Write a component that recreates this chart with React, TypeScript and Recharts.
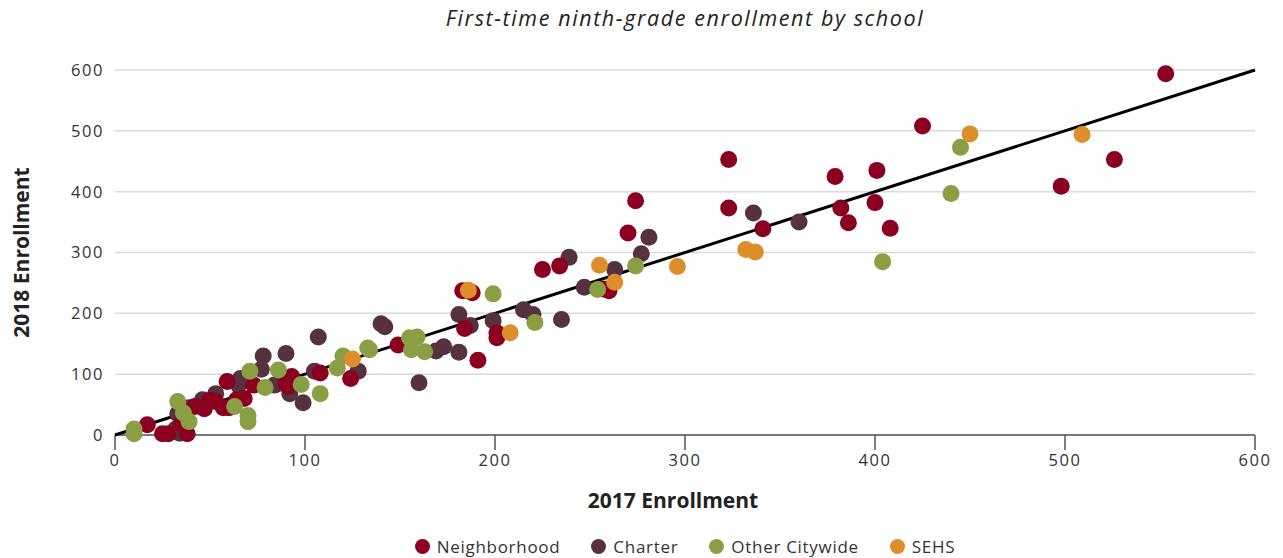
import { ScatterChart, Scatter, XAxis, YAxis, CartesianGrid, Legend } from 'recharts';

const FONT = '"Open Sans", sans-serif';

const axisTicks = [0, 100, 200, 300, 400, 500, 600];

const neighborhood = [
    { x: 553, y: 594 }, { x: 425, y: 508 }, { x: 526, y: 453 }, { x: 498, y: 409 },
    { x: 323, y: 453 }, { x: 323, y: 373 }, { x: 401, y: 435 }, { x: 379, y: 425 },
    { x: 382, y: 373 }, { x: 400, y: 382 }, { x: 386, y: 349 }, { x: 408, y: 340 },
    { x: 341, y: 339 }, { x: 274, y: 385 }, { x: 270, y: 332 }, { x: 234, y: 278 },
    { x: 225, y: 272 }, { x: 260, y: 237 }, { x: 257, y: 240 }, { x: 183, y: 237 },
    { x: 188, y: 234 }, { x: 184, y: 175 }, { x: 201, y: 168 }, { x: 201, y: 160 },
    { x: 191, y: 123 }, { x: 149, y: 148 }, { x: 124, y: 93 }, { x: 108, y: 102 },
    { x: 93, y: 96 }, { x: 90, y: 85 }, { x: 91, y: 80 }, { x: 73, y: 82 },
    { x: 68, y: 60 }, { x: 59, y: 88 }, { x: 53, y: 55 }, { x: 57, y: 45 },
    { x: 50, y: 57 }, { x: 47, y: 43 }, { x: 42, y: 47 }, { x: 35, y: 18 },
    { x: 28, y: 2 }, { x: 25, y: 2 }, { x: 38, y: 2 }, { x: 17, y: 17 },
    { x: 60, y: 45 }, { x: 64, y: 58 },
];

const charter = [
    { x: 336, y: 365 }, { x: 360, y: 350 }, { x: 281, y: 325 }, { x: 277, y: 298 },
    { x: 263, y: 272 }, { x: 239, y: 292 }, { x: 247, y: 243 }, { x: 235, y: 190 },
    { x: 215, y: 206 }, { x: 220, y: 198 }, { x: 199, y: 188 }, { x: 181, y: 198 },
    { x: 181, y: 136 }, { x: 187, y: 180 }, { x: 173, y: 145 }, { x: 169, y: 138 },
    { x: 160, y: 86 }, { x: 140, y: 183 }, { x: 142, y: 178 }, { x: 128, y: 105 },
    { x: 107, y: 161 }, { x: 105, y: 105 }, { x: 99, y: 53 }, { x: 92, y: 68 },
    { x: 90, y: 134 }, { x: 78, y: 130 }, { x: 84, y: 82 }, { x: 77, y: 108 },
    { x: 66, y: 93 }, { x: 65, y: 82 }, { x: 53, y: 68 }, { x: 46, y: 58 },
    { x: 44, y: 48 }, { x: 39, y: 45 }, { x: 33, y: 35 }, { x: 34, y: 3 },
    { x: 32, y: 10 },
];

const otherCitywide = [
    { x: 445, y: 473 }, { x: 440, y: 397 }, { x: 404, y: 285 }, { x: 274, y: 278 },
    { x: 254, y: 239 }, { x: 221, y: 185 }, { x: 199, y: 232 }, { x: 163, y: 137 },
    { x: 159, y: 161 }, { x: 155, y: 160 }, { x: 156, y: 140 }, { x: 133, y: 143 },
    { x: 134, y: 140 }, { x: 120, y: 130 }, { x: 117, y: 110 }, { x: 108, y: 68 },
    { x: 98, y: 83 }, { x: 86, y: 107 }, { x: 79, y: 78 }, { x: 71, y: 105 },
    { x: 70, y: 32 }, { x: 70, y: 22 }, { x: 63, y: 47 }, { x: 39, y: 22 },
    { x: 36, y: 36 }, { x: 33, y: 55 }, { x: 10, y: 10 }, { x: 10, y: 2 },
];

const sehs = [
    { x: 450, y: 495 }, { x: 509, y: 494 }, { x: 332, y: 305 }, { x: 337, y: 301 },
    { x: 296, y: 277 }, { x: 255, y: 279 }, { x: 263, y: 251 }, { x: 186, y: 238 },
    { x: 208, y: 168 }, { x: 125, y: 125 },
];

// line of equal enrollment
const parity = [{ x: 0, y: 0 }, { x: 600, y: 600 }];

const legendItems = [
    { name: 'Neighborhood', color: '#8b0021' },
    { name: 'Charter', color: '#55323d' },
    { name: 'Other Citywide', color: '#8a9f44' },
    { name: 'SEHS', color: '#de8d2b' },
];

const Dot = (props: any) => <circle cx={props.cx} cy={props.cy} r={8.5} fill={props.fill} />;

const renderLegend = () => (
    <div style={{ display: 'flex', justifyContent: 'center', alignItems: 'center', gap: 31, height: 24, fontFamily: FONT, fontSize: 17, letterSpacing: 0.7, color: '#333' }}>
        {legendItems.map((item) => (
            <div key={item.name} style={{ display: 'flex', alignItems: 'center' }}>
                <span style={{ display: 'inline-block', width: 15, height: 15, borderRadius: '50%', background: item.color, marginRight: 7 }} />
                <span>{item.name}</span>
            </div>
        ))}
    </div>
);

const YLabel = (props: any) => {
    const { viewBox } = props;
    const x = viewBox.x + 21;
    const y = viewBox.y + viewBox.height / 2;
    return (
        <text x={x} y={y} transform={`rotate(-90, ${x}, ${y})`} textAnchor="middle" dominantBaseline="central"
            style={{ fontFamily: FONT, fontSize: 21, fontWeight: 700, fill: '#222' }}>
            2018 Enrollment
        </text>
    );
};

const XLabel = (props: any) => {
    const { viewBox } = props;
    const x = viewBox.x + viewBox.width / 2 - 12;
    const y = viewBox.y + 73;
    return (
        <text x={x} y={y} textAnchor="middle" style={{ fontFamily: FONT, fontSize: 21, fontWeight: 700, fill: '#222' }}>
            2017 Enrollment
        </text>
    );
};

const tickStyle = { fill: '#333', fontSize: 16.5, fontFamily: FONT, letterSpacing: 1.6 };

export default function App() {
    return (
        <div style={{ position: 'relative', width: 1283, height: 558, background: '#fff' }}>
            <style>{'body { margin: 0; }'}</style>
            <div style={{ position: 'absolute', top: 3, left: 115, width: 1140, textAlign: 'center', fontFamily: FONT, fontStyle: 'italic', fontSize: 21.5, letterSpacing: 1.6, color: '#222' }}>
                First-time ninth-grade enrollment by school
            </div>
            <ScatterChart width={1283} height={558} margin={{ top: 70, right: 28, bottom: 0, left: 0 }}>
                <CartesianGrid vertical={false} stroke="#d9d9d9" strokeWidth={1.5} />
                <XAxis
                    type="number"
                    dataKey="x"
                    domain={[0, 600]}
                    ticks={axisTicks}
                    height={99}
                    tickSize={15}
                    tickMargin={4}
                    stroke="#555"
                    strokeWidth={1.5}
                    tick={tickStyle}
                    label={<XLabel />}
                />
                <YAxis
                    type="number"
                    dataKey="y"
                    domain={[0, 600]}
                    ticks={axisTicks}
                    width={115}
                    axisLine={false}
                    tickLine={false}
                    tickMargin={5}
                    tick={tickStyle}
                    label={<YLabel />}
                />
                <Scatter data={parity} line={{ stroke: '#000', strokeWidth: 3 }} shape={() => null} isAnimationActive={false} legendType="none" />
                <Scatter name="Charter" data={charter} fill="#55323d" shape={Dot} isAnimationActive={false} />
                <Scatter name="Neighborhood" data={neighborhood} fill="#8b0021" shape={Dot} isAnimationActive={false} />
                <Scatter name="Other Citywide" data={otherCitywide} fill="#8a9f44" shape={Dot} isAnimationActive={false} />
                <Scatter name="SEHS" data={sehs} fill="#de8d2b" shape={Dot} isAnimationActive={false} />
                <Legend verticalAlign="bottom" content={renderLegend} wrapperStyle={{ left: 115, width: 1140, bottom: 0 }} />
            </ScatterChart>
        </div>
    );
}
